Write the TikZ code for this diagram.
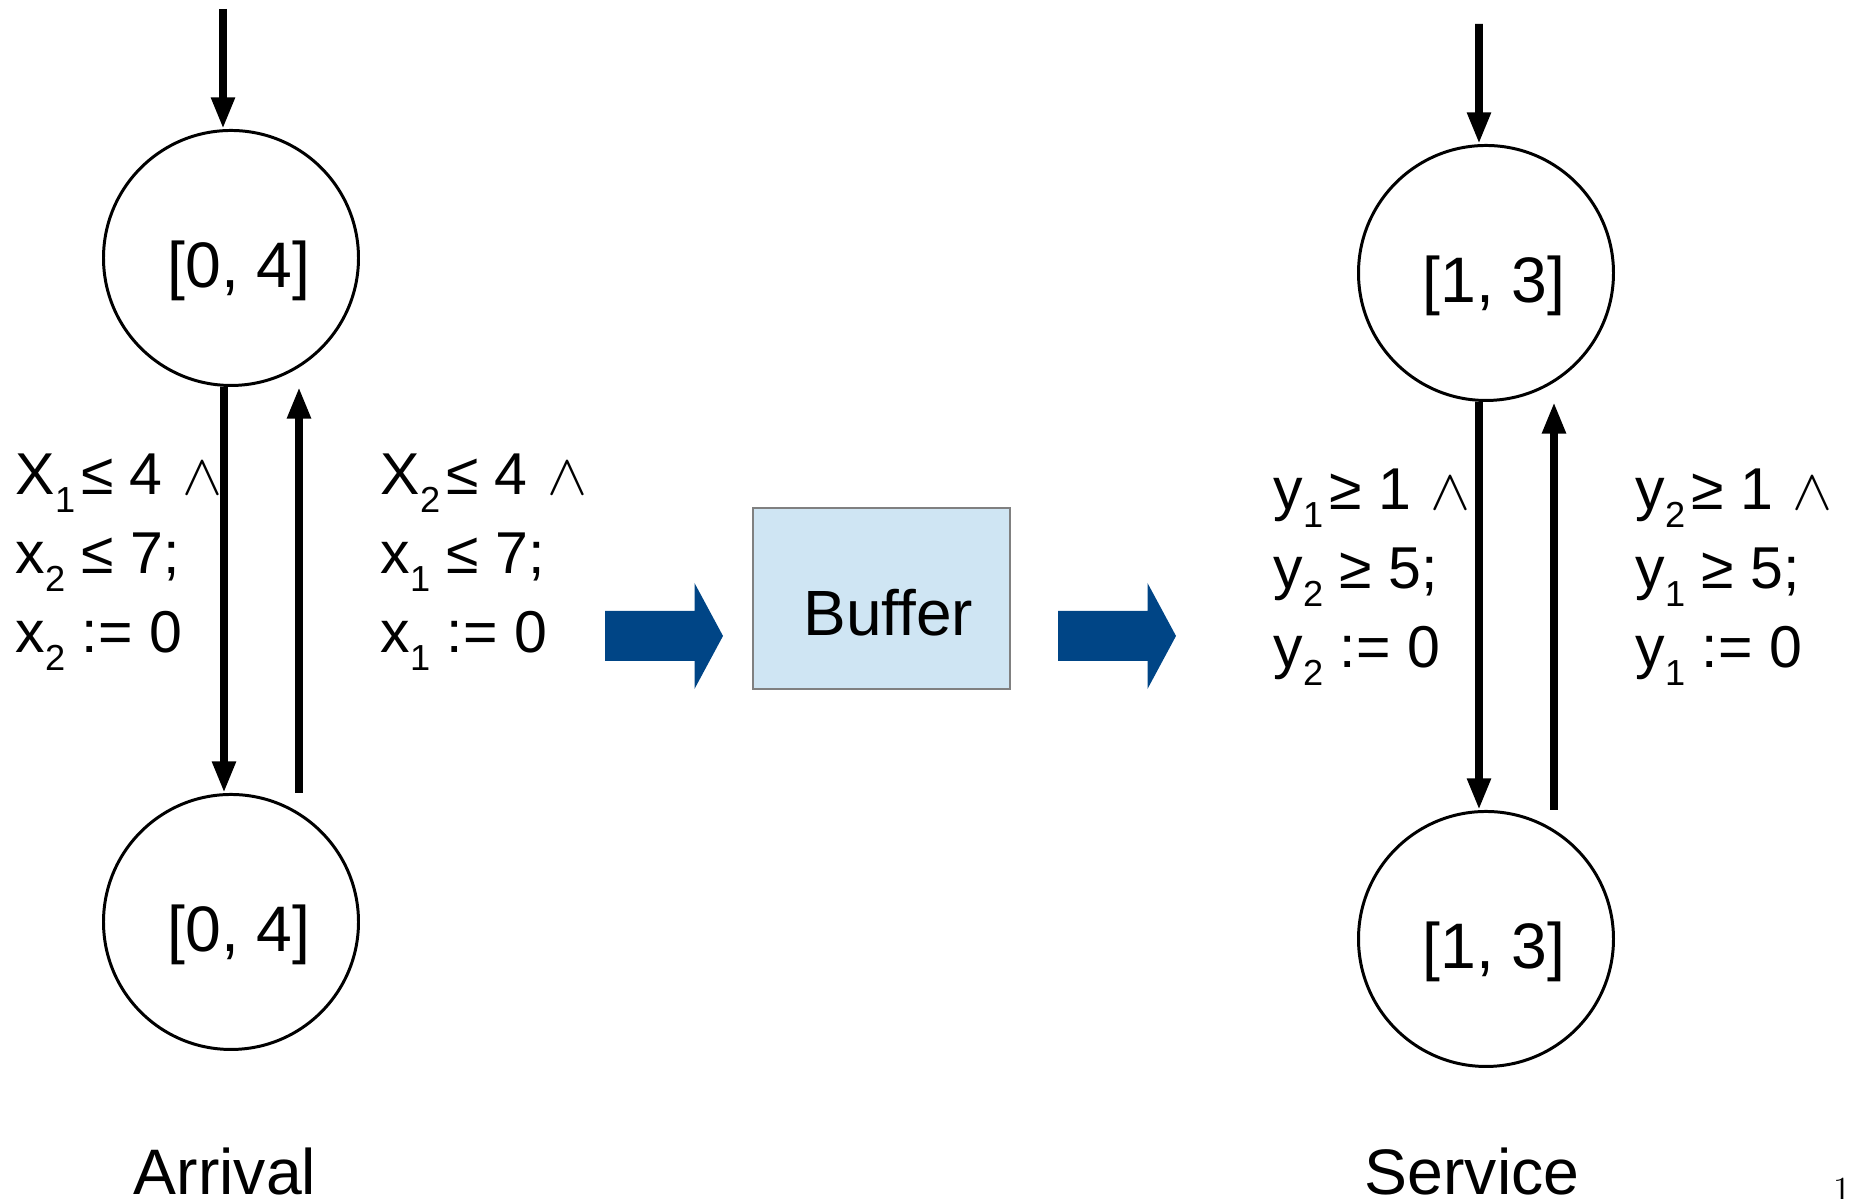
\documentclass[tikz,border=0pt]{standalone}
\usepackage{fontspec}
\setsansfont{Liberation Sans}
\usetikzlibrary{arrows.meta,calc}

\definecolor{flowblue}{HTML}{004586}
\definecolor{bufferfill}{RGB}{207,229,243}

% lowered index and the thin "and"
\newcommand{\ix}[1]{\raisebox{-5.1pt}{\fontsize{10.3}{11}\selectfont #1}}
\newcommand{\conj}{\hspace{0.33em}\resizebox{0.40cm}{0.32cm}{$\wedge$}}

\tikzset{
  loc/.style={circle, draw, line width=0.85pt, minimum size=2.55cm, inner sep=0pt,
    font=\sffamily\fontsize{18.3}{20}\selectfont, text height=0.6cm, text depth=0pt,
    execute at begin node=\hspace*{0.16cm}},
  guard/.style={anchor=north west, inner sep=0pt, align=left,
    font=\sffamily\fontsize{16.8}{22.5}\selectfont},
  trans/.style={line width=2.2pt, -{Triangle[length=9pt,width=6.3pt]}},
  caption/.style={anchor=base, inner sep=0pt, font=\sffamily\fontsize{18.3}{20}\selectfont}
}

\begin{document}
\begin{tikzpicture}
\useasboundingbox (0,0) rectangle (18.52,11.99);

% arrival automaton
\node[loc] (arrTop) at (2.31,9.41) {[0, 4]};
\node[loc] (arrBot) at (2.31,2.77) {[0, 4]};
\coordinate (arrInit) at (2.23,11.90);
\draw[trans] (arrInit) -- ($(arrTop.north)+(-0.08,0)$);
\draw[trans] ($(arrTop.south)+(-0.07,0)$) -- ($(arrBot.north)+(-0.07,0)$);
\draw[trans] ($(arrBot.north)+(0.68,0)$) -- ($(arrTop.south)+(0.68,0)$);
\node[guard] (arrDown) at (0.15,7.46) {X\ix{1}\hspace{0.1em}≤ 4\conj\\ x\ix{2} ≤ 7;\\ x\ix{2} := 0};
\node[guard] (arrUp) at (3.80,7.46) {X\ix{2}\hspace{0.1em}≤ 4\conj\\ x\ix{1} ≤ 7;\\ x\ix{1} := 0};
\node[caption] (arrName) at (2.25,0.04) {Arrival};

% buffer in between
\foreach \x in {6.05,10.58}
  \fill[flowblue] (\x,5.38) -- ++(0.895,0) -- ++(0,-0.28) -- ++(0.285,0.53)
    -- ++(-0.285,0.53) -- ++(0,-0.28) -- ++(-0.895,0) -- cycle;
\node[draw=gray, line width=0.4pt, fill=bufferfill, minimum width=2.57cm, minimum height=1.81cm,
  font=\sffamily\fontsize{18.2}{20}\selectfont, text height=0.74cm, text depth=0pt,
  execute at begin node=\hspace*{0.14cm}]
  (buffer) at (8.815,6.005) {Buffer};

% service automaton
\node[loc] (srvTop) at (14.86,9.26) {[1, 3]};
\node[loc] (srvBot) at (14.86,2.60) {[1, 3]};
\coordinate (srvInit) at (14.79,11.75);
\draw[trans] (srvInit) -- ($(srvTop.north)+(-0.07,0)$);
\draw[trans] ($(srvTop.south)+(-0.07,0)$) -- ($(srvBot.north)+(-0.07,0)$);
\draw[trans] ($(srvBot.north)+(0.68,0)$) -- ($(srvTop.south)+(0.68,0)$);
\node[guard] (srvDown) at (12.73,7.31) {y\ix{1}\hspace{0.1em}≥ 1\conj\\ y\ix{2} ≥ 5;\\ y\ix{2} := 0};
\node[guard] (srvUp) at (16.35,7.31) {y\ix{2}\hspace{0.1em}≥ 1\conj\\ y\ix{1} ≥ 5;\\ y\ix{1} := 0};
\node[caption] (srvName) at (14.72,0.04) {Service};

\node[anchor=north, inner sep=0pt, font=\rmfamily\fontsize{10}{12}\selectfont] (pageNo) at (18.425,0.22) {1};
\end{tikzpicture}
\end{document}
